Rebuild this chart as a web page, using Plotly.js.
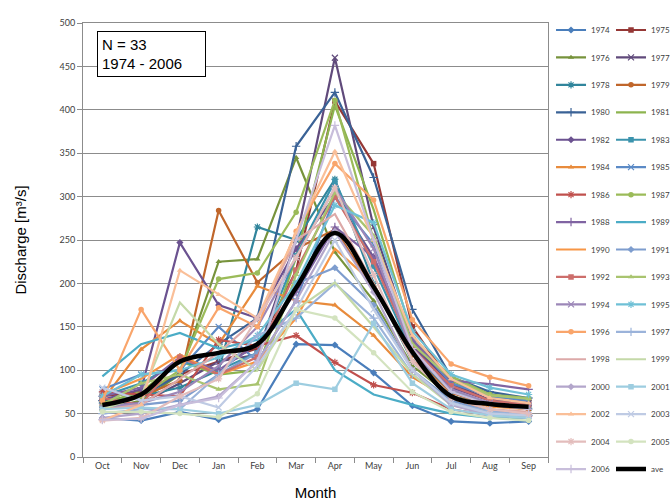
<!DOCTYPE html>
<html>
<head>
<meta charset="utf-8">
<script src="https://cdn.plot.ly/plotly-3.0.1.min.js"></script>
<style>
  html, body { margin: 0; padding: 0; background: #fff; }
  #chart { width: 671px; height: 501px; }
</style>
</head>
<body>
<div id="chart"></div>
<script>
// Hydrological year, October to September
const months = ['Oct', 'Nov', 'Dec', 'Jan', 'Feb', 'Mar', 'Apr', 'May', 'Jun', 'Jul', 'Aug', 'Sep'];

// Monthly mean discharge [m3/s] for each year
const q1974 = [45, 42, 52, 43, 55, 130, 129, 97, 59, 41, 39, 41];
const q1975 = [70, 75, 95, 110, 125, 215, 410, 338, 150, 85, 70, 65];
const q1976 = [55, 65, 95, 225, 228, 345, 236, 180, 105, 70, 60, 55];
const q1977 = [60, 62, 85, 110, 118, 250, 460, 265, 130, 84, 66, 62];
const q1978 = [62, 70, 80, 100, 265, 250, 320, 200, 110, 70, 60, 56];
const q1979 = [60, 70, 88, 284, 201, 240, 262, 195, 118, 74, 60, 55];
const q1980 = [65, 70, 95, 130, 160, 358, 420, 322, 170, 92, 75, 68];
const q1981 = [62, 75, 110, 95, 100, 230, 405, 285, 140, 88, 70, 66];
const q1982 = [66, 78, 247, 175, 160, 240, 300, 230, 128, 80, 65, 60];
const q1983 = [70, 85, 110, 100, 120, 232, 318, 220, 120, 76, 62, 58];
const q1984 = [65, 124, 157, 130, 197, 180, 175, 140, 92, 66, 55, 50];
const q1985 = [78, 95, 100, 150, 110, 180, 300, 245, 135, 85, 70, 65];
const q1986 = [75, 72, 70, 135, 128, 140, 109, 83, 74, 55, 48, 47];
const q1987 = [55, 70, 100, 205, 212, 282, 411, 250, 132, 93, 72, 68];
const q1988 = [70, 80, 115, 100, 130, 190, 265, 230, 135, 88, 84, 78];
const q1989 = [93, 130, 143, 125, 135, 170, 100, 72, 60, 50, 45, 45];
const q1990 = [72, 90, 118, 95, 110, 160, 240, 200, 112, 70, 58, 55];
const q1991 = [58, 60, 65, 95, 120, 200, 218, 175, 100, 65, 52, 50];
const q1992 = [68, 60, 115, 95, 115, 215, 300, 225, 125, 82, 65, 60];
const q1993 = [60, 85, 95, 78, 84, 210, 305, 255, 130, 90, 71, 67];
const q1994 = [58, 62, 75, 105, 150, 230, 310, 240, 120, 78, 62, 58];
const q1995 = [70, 95, 100, 115, 140, 200, 290, 270, 145, 95, 80, 72];
const q1996 = [65, 170, 100, 172, 150, 260, 338, 296, 158, 107, 92, 82];
const q1997 = [50, 55, 55, 95, 140, 160, 200, 160, 95, 62, 52, 48];
const q1998 = [55, 60, 90, 120, 160, 250, 280, 200, 112, 68, 55, 52];
const q1999 = [55, 70, 178, 130, 100, 170, 201, 150, 95, 60, 50, 46];
const q2000 = [45, 50, 60, 70, 110, 180, 260, 190, 100, 60, 48, 45];
const q2001 = [55, 57, 55, 50, 60, 85, 78, 154, 85, 55, 48, 45];
const q2002 = [42, 60, 215, 187, 160, 258, 352, 250, 140, 90, 68, 62];
const q2003 = [80, 65, 70, 57, 105, 170, 250, 170, 100, 62, 50, 48];
const q2004 = [42, 45, 70, 90, 160, 230, 310, 210, 110, 68, 55, 50];
const q2005 = [52, 52, 50, 46, 73, 170, 160, 120, 75, 52, 45, 42];
const q2006 = [43, 44, 60, 68, 110, 250, 382, 250, 125, 75, 60, 55];

// Long-term monthly average
const ave = [60, 72, 110, 120, 130, 195, 258, 196, 121, 70, 61, 58];

const years = ['1974', '1975', '1976', '1977', '1978', '1979', '1980', '1981', '1982',
  '1983', '1984', '1985', '1986', '1987', '1988', '1989', '1990', '1991', '1992', '1993',
  '1994', '1995', '1996', '1997', '1998', '1999', '2000', '2001', '2002', '2003', '2004',
  '2005', '2006'];
const flows = [q1974, q1975, q1976, q1977, q1978, q1979, q1980, q1981, q1982, q1983,
  q1984, q1985, q1986, q1987, q1988, q1989, q1990, q1991, q1992, q1993, q1994, q1995,
  q1996, q1997, q1998, q1999, q2000, q2001, q2002, q2003, q2004, q2005, q2006];

// Series styling
const colors = ['#4A7EBB', '#953735', '#77933C', '#604A7B', '#31859C', '#C0662B',
  '#3A6296', '#8DB44F', '#6B5290', '#3B93AD', '#E88B3C', '#5B8AC6',
  '#C0504D', '#9BBB59', '#8064A2', '#4BACC6', '#F79646', '#7E9DCE',
  '#CD6E6B', '#A9C46F', '#9C87B8', '#6FC0D6', '#F9A56B', '#9BB3DA',
  '#DCA9A8', '#C4D9A8', '#B3A6CB', '#9DCDE0', '#FABF98', '#BFCBE4',
  '#E3BDBC', '#D3E3BF', '#C8BEDB'];
const symbols = ['diamond', 'square', 'triangle-up', 'x-thin-open', 'asterisk-open', 'circle',
  'cross-thin-open', null, 'diamond', 'square', 'triangle-up', 'x-thin-open',
  'asterisk-open', 'circle', 'cross-thin-open', null, null, 'diamond',
  'square', 'triangle-up', 'x-thin-open', 'asterisk-open', 'circle', 'cross-thin-open',
  null, null, 'diamond', 'square', 'triangle-up', 'x-thin-open',
  'asterisk-open', 'circle', 'cross-thin-open'];

const traces = years.map((yr, i) => {
  const sym = symbols[i];
  const trace = {
    type: 'scatter',
    x: months,
    y: flows[i],
    name: yr,
    legendgroup: yr,
    legend: i % 2 === 0 ? 'legend' : 'legend2',
    mode: sym ? 'lines+markers' : 'lines',
    line: { color: colors[i], width: 2.2 },
    hoverinfo: 'name+y'
  };
  if (sym) {
    const open = sym.endsWith('open');
    trace.marker = {
      symbol: sym,
      size: open ? 6 : 5.5,
      color: colors[i],
      line: { color: colors[i], width: open ? 1.2 : 0 }
    };
  }
  return trace;
});

traces.push({
  type: 'scatter',
  x: months,
  y: ave,
  name: 'ave',
  legendgroup: 'ave',
  legend: 'legend2',
  mode: 'lines',
  line: { color: '#000000', width: 4.5, shape: 'spline', smoothing: 1 },
  hoverinfo: 'name+y'
});

const gridGrey = '#8c8c8c';
const tickFont = { family: 'Lato, "Liberation Sans", sans-serif', size: 9, color: '#404040' };
const legendCommon = {
  orientation: 'v',
  yanchor: 'top',
  xanchor: 'left',
  y: 1.0173,
  font: { family: 'Lato, "Liberation Sans", sans-serif', size: 8, color: '#404040' },
  bgcolor: 'rgba(0,0,0,0)',
  borderwidth: 0,
  tracegroupgap: 8.44,
  itemwidth: 30,
  maxheight: 600,
  itemclick: false,
  itemdoubleclick: false
};

const layout = {
  width: 671,
  height: 501,
  paper_bgcolor: '#ffffff',
  plot_bgcolor: '#ffffff',
  margin: { l: 83, r: 123, t: 23, b: 44, pad: 0, autoexpand: false },
  showlegend: true,
  legend: Object.assign({}, legendCommon, { x: 1.0065 }),
  legend2: Object.assign({}, legendCommon, { x: 1.1355 }),
  xaxis: {
    type: 'category',
    categoryorder: 'array',
    categoryarray: months,
    range: [-0.5, 11.5],
    showgrid: false,
    zeroline: false,
    showline: true,
    mirror: true,
    linecolor: gridGrey,
    linewidth: 1,
    ticks: 'outside',
    tickson: 'boundaries',
    ticklen: 5,
    tickcolor: gridGrey,
    tickfont: tickFont,
    title: {
      text: 'Month',
      font: { family: '"Liberation Sans", Arial, sans-serif', size: 15, color: '#000000' },
      standoff: 17
    },
    automargin: false
  },
  yaxis: {
    range: [0, 500],
    dtick: 50,
    tick0: 0,
    showgrid: true,
    gridcolor: gridGrey,
    gridwidth: 1,
    zeroline: false,
    showline: true,
    mirror: true,
    linecolor: gridGrey,
    linewidth: 1,
    ticks: 'outside',
    ticklen: 5,
    tickcolor: gridGrey,
    tickfont: tickFont,
    title: {
      text: 'Discharge [m³/s]',
      font: { family: '"Liberation Sans", Arial, sans-serif', size: 15, color: '#000000' },
      standoff: 29
    },
    automargin: false
  },
  annotations: [{
    xref: 'paper', yref: 'paper',
    x: 0.0301, y: 0.9816,
    xanchor: 'left', yanchor: 'top',
    text: 'N = 33<br>1974 - 2006',
    align: 'left',
    valign: 'middle',
    showarrow: false,
    width: 99,
    height: 36,
    borderpad: 4,
    bordercolor: '#000000',
    borderwidth: 1,
    bgcolor: '#ffffff',
    font: { family: '"Liberation Sans", Arial, sans-serif', size: 15, color: '#000000' }
  }]
};

Plotly.newPlot('chart', traces, layout, { displayModeBar: false, responsive: false });
</script>
</body>
</html>
